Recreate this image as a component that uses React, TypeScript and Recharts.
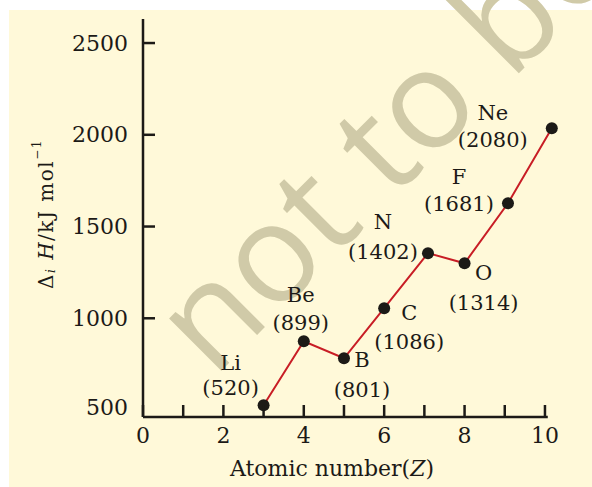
import { LineChart, Line, XAxis, YAxis, LabelList, ReferenceLine, Label } from 'recharts';

const ELEMENTS = ['Li', 'Be', 'B', 'C', 'N', 'O', 'F', 'Ne'];
// where the points sit on the picture (atomic number axis)
const ATOMIC_Z = [3, 4, 5, 6, 7.09, 8, 9.08, 10.17];
// where the points sit on the picture (ΔiH axis)
const PLOTTED_IE = [526, 875, 782, 1055, 1355, 1300, 1627, 2036];
// values printed next to the points
const QUOTED_IE = [520, 899, 801, 1086, 1402, 1314, 1681, 2080];
const X_TICKS = [0, 1, 2, 3, 4, 5, 6, 7, 8, 9, 10];
const Y_TICKS = [500, 1000, 1500, 2000, 2500];

const data = ELEMENTS.map((el, i) => ({ el, z: ATOMIC_Z[i], ie: PLOTTED_IE[i], quoted: QUOTED_IE[i] }));

// label placement around each point: [dx, dy symbol, dy value]
const LABEL_OFFSETS: number[][] = [
  [-33, -42, -17],
  [-3, -46, -18],
  [18, 2, 32],
  [25, 5, 34],
  [-45, -31, -1],
  [19, 10, 40],
  [-49, -26, 1],
  [-59, -15, 12],
];

const INK = '#1c1a17';
const SERIF = '"DejaVu Serif", "Liberation Serif", serif';

const XTick = ({ x, y, payload }: any) => (
  <g>
    <line x1={x} x2={x} y1={y} y2={y - 12} stroke={INK} strokeWidth={2.5} />
    {payload.value % 2 === 0 && (
      <text x={x} y={y + 18} textAnchor="middle" dominantBaseline="central" fontSize={22} fontFamily={SERIF} fill={INK}>
        {payload.value}
      </text>
    )}
  </g>
);

const YTick = ({ x, y, payload }: any) => {
  // the lowest value sits just over the x axis: no tick mark there
  const lowest = payload.value === Y_TICKS[0];
  return (
    <g>
      {!lowest && <line x1={x + 15} x2={x + 27} y1={y} y2={y} stroke={INK} strokeWidth={2.5} />}
      <text x={x} y={lowest ? y - 3 : y} textAnchor="end" dominantBaseline="central" fontSize={22} fontFamily={SERIF} fill={INK}>
        {payload.value}
      </text>
    </g>
  );
};

const PointLabel = ({ x, y, value }: any) => {
  const i = ELEMENTS.indexOf(value);
  if (i < 0) return null;
  const [dx, dy1, dy2] = LABEL_OFFSETS[i];
  return (
    <g fontFamily={SERIF} fontSize={21} fill={INK} textAnchor="middle">
      <text x={x + dx} y={y + dy1} dominantBaseline="central">{ELEMENTS[i]}</text>
      <text x={x + dx} y={y + dy2} dominantBaseline="central">({QUOTED_IE[i]})</text>
    </g>
  );
};

const YTitle = ({ viewBox }: any) => {
  const cx = viewBox.x + 37;
  const cy = viewBox.y + viewBox.height / 2 - 4;
  return (
    <text
      x={cx}
      y={cy}
      transform={`rotate(-90 ${cx} ${cy})`}
      textAnchor="middle"
      dominantBaseline="central"
      fontFamily={SERIF}
      fontSize={20}
      letterSpacing={1.5}
      fill={INK}
    >
      <tspan>Δ</tspan>
      <tspan fontSize={12} fontStyle="italic" dy={5}>i</tspan>
      <tspan dy={-5}> </tspan>
      <tspan fontStyle="italic">H</tspan>
      <tspan>/kJ mol</tspan>
      <tspan fontSize={12} dy={-9}>−1</tspan>
    </text>
  );
};

const XTitle = ({ viewBox }: any) => (
  <text
    x={viewBox.x + 189}
    y={viewBox.y + 51}
    textAnchor="middle"
    dominantBaseline="central"
    fontFamily={SERIF}
    fontSize={22}
    fill={INK}
  >
    Atomic number(<tspan fontStyle="italic">Z</tspan>)
  </text>
);

export default function App() {
  return (
    <div style={{ position: 'absolute', left: 0, top: 0, width: 592, height: 487, background: '#ffffff', overflow: 'hidden' }}>
      <div style={{ position: 'absolute', left: 9, top: 10, width: 583, height: 477, background: '#fff9d9' }} />
      <svg width={592} height={487} style={{ position: 'absolute', left: 0, top: 0 }}>
        <text
          x={213}
          y={379}
          transform="rotate(-45 213 379)"
          fontFamily='"Open Sans", "DejaVu Sans", sans-serif'
          fontSize={138}
          fill="#d0caa8"
        >
          not to be
        </text>
      </svg>
      <div style={{ position: 'absolute', left: 9, top: 10 }}>
        <LineChart width={583} height={477} data={data} margin={{ top: 9, right: 39, bottom: 0, left: 0 }}>
          <XAxis
            dataKey="z"
            type="number"
            domain={[0, 10.2]}
            ticks={X_TICKS}
            interval={0}
            axisLine={false}
            tickLine={false}
            tickSize={0}
            tickMargin={0}
            height={70}
            tick={<XTick />}
          >
            <Label content={<XTitle />} />
          </XAxis>
          <YAxis
            type="number"
            domain={[462, 2631]}
            ticks={Y_TICKS}
            interval={0}
            width={134}
            axisLine={{ stroke: INK, strokeWidth: 2.5 }}
            tickLine={false}
            tickSize={0}
            tickMargin={15}
            tick={<YTick />}
          >
            <Label content={<YTitle />} />
          </YAxis>
          <ReferenceLine
            segment={[{ x: 0, y: 462 }, { x: 10.07, y: 462 }]}
            stroke={INK}
            strokeWidth={2.5}
          />
          <Line
            dataKey="ie"
            stroke="#c81d25"
            strokeWidth={2}
            dot={{ r: 6, fill: INK, stroke: 'none' }}
            isAnimationActive={false}
          >
            <LabelList dataKey="el" content={<PointLabel />} />
          </Line>
        </LineChart>
      </div>
    </div>
  );
}
